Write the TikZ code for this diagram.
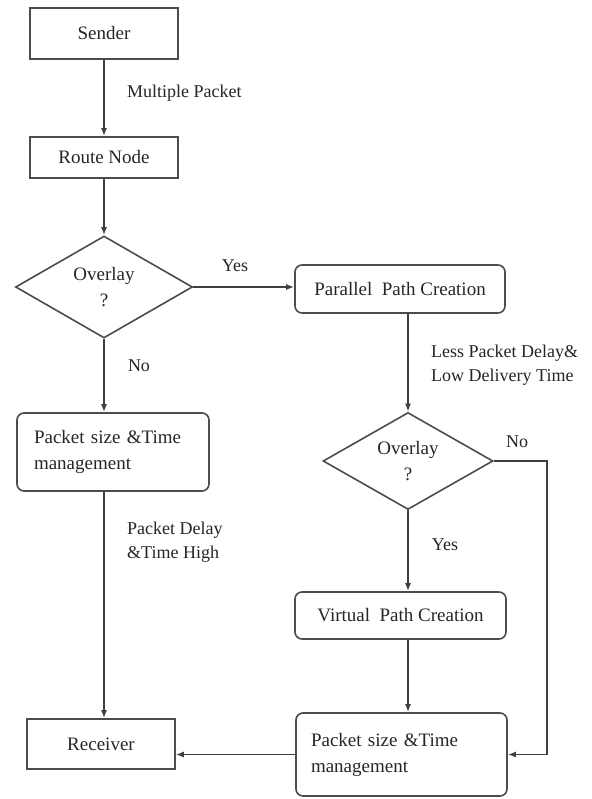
\documentclass[tikz,border=0pt]{standalone}
\usepackage{fontspec}
\setmainfont{Liberation Serif}
\newfontfamily\tmsfam{Liberation Serif}
\usetikzlibrary{shapes.geometric,arrows.meta}
\begin{document}
\begin{tikzpicture}[x=1pt,y=-1pt,
  every node/.style={text=black!85, font=\tmsfam\fontsize{19}{26}\selectfont},
  sq/.style={draw=black!70, line width=1.6pt, inner sep=0pt},
  rbox/.style={sq, rounded corners=7pt},
  dia/.style={diamond, draw=black!70, line width=1.6pt, inner sep=0pt, align=center},
  conn/.style={draw=black!75, line width=1.5pt, -{Latex[length=8pt,width=6pt]}},
  lbl/.style={font=\tmsfam\fontsize{18}{24}\selectfont, align=left, inner sep=0pt}
]
\fill[white] (0,0) rectangle (591,799);
\useasboundingbox (0,0) rectangle (591,799);

\node[sq, minimum width=148pt, minimum height=51pt] (snd) at (104,33.5) {Sender};
\node[sq, minimum width=148pt, minimum height=41pt] (rn) at (104,157.5) {Route Node};
\node[dia, minimum width=177pt, minimum height=102pt, aspect=1.735] (d1) at (104,287) {Overlay\\?};
\node[rbox, minimum width=210pt, minimum height=48pt] (pp) at (400,289) {Parallel\ \ Path Creation};
\node[rbox, minimum width=192pt, minimum height=78pt, text width=158pt, align=left] (pm1) at (113,452) {Packet size \&Time\\management};
\node[dia, minimum width=170pt, minimum height=97pt, aspect=1.75] (d2) at (408,461) {Overlay\\?};
\node[rbox, minimum width=211pt, minimum height=47pt] (vp) at (400.5,615.5) {Virtual\ \ Path Creation};
\node[rbox, minimum width=211pt, minimum height=83pt, text width=181pt, align=left] (pm2) at (401.5,754.5) {Packet size \&Time\\management};
\node[sq, minimum width=148pt, minimum height=50pt] (rec) at (101,744) {Receiver};
\coordinate (nr) at (547,461);

\draw[conn] (snd) -- (rn);
\draw[conn] (rn) -- (d1);
\draw[conn] (d1.east) -- (d1.east -| pp.west);
\draw[conn] (d1.south) -- (d1.south |- pm1.north);
\draw[conn] (d1.south |- pm1.south) -- (d1.south |- rec.north);
\draw[conn] (pp.south -| d2.north) -- (d2.north);
\draw[conn] (d2.south) -- (d2.south |- vp.north);
\draw[conn] (d2.south |- vp.south) -- (d2.south |- pm2.north);
\draw[conn] (d2.east) -- (nr) |- (pm2.east);
\draw[conn] (pm2.west) -- (pm2.west -| rec.east);

\node[lbl, anchor=west] (l1) at (127,93) {Multiple Packet};
\node[lbl] (l2) at (235,266) {Yes};
\node[lbl] (l3) at (139,366) {No};
\node[lbl, anchor=west] (l4) at (431,365) {Less Packet Delay\&\\Low Delivery Time};
\node[lbl] (l5) at (517,442) {No};
\node[lbl] (l6) at (445,545) {Yes};
\node[lbl, anchor=west] (l7) at (127,542) {Packet Delay\\\&Time High};
\end{tikzpicture}
\end{document}
